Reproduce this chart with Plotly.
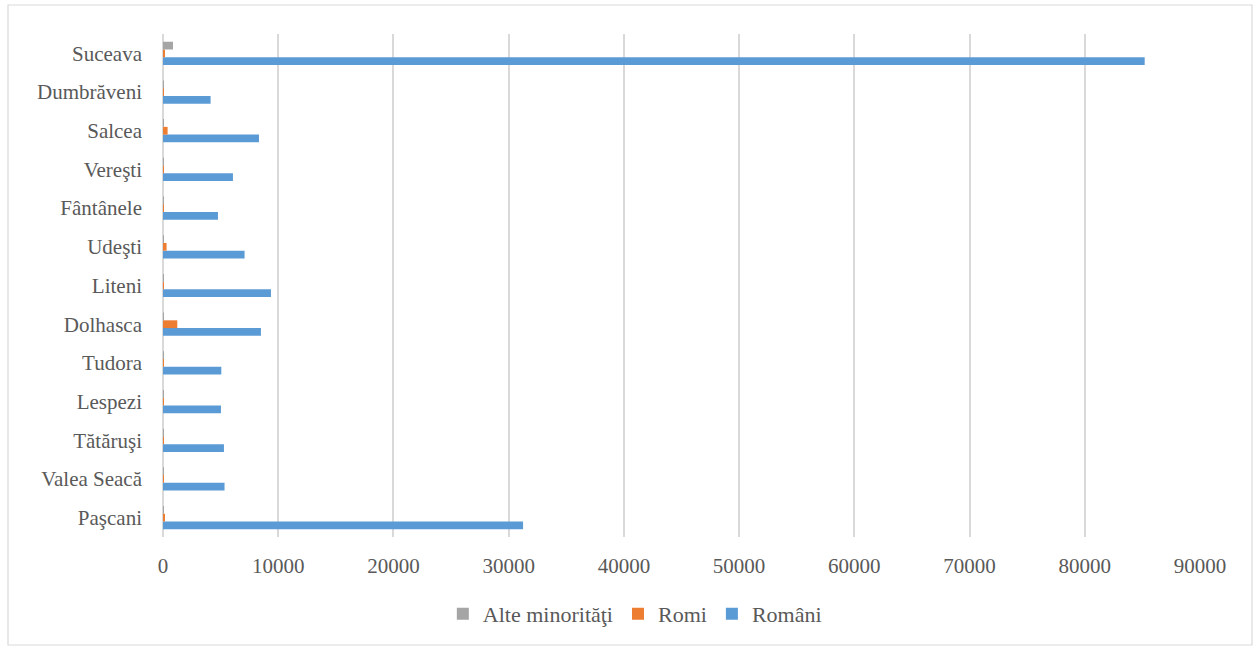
import plotly.graph_objects as go

# Localities, listed bottom-to-top as they appear on the category axis
localitati = ["Paşcani", "Valea Seacă", "Tătăruşi", "Lespezi", "Tudora", "Dolhasca",
              "Liteni", "Udeşti", "Fântânele", "Vereşti", "Salcea", "Dumbrăveni", "Suceava"]

# Population by ethnicity
romani = [31250, 5340, 5290, 5030, 5060, 8500, 9370, 7080, 4770, 6070, 8330, 4130, 85200]
romi = [170, 20, 20, 20, 20, 1240, 20, 310, 20, 20, 400, 20, 150]
alte_minoritati = [20, 10, 10, 60, 10, 20, 10, 20, 10, 10, 30, 20, 870]

x_ticks = [0, 10000, 20000, 30000, 40000, 50000, 60000, 70000, 80000, 90000]

FONT = "Liberation Serif"
TEXT = "#595959"

fig = go.Figure()
fig.add_trace(go.Bar(y=localitati, x=romani, name="Români", orientation="h",
                     marker=dict(color="#5B9BD5", line=dict(width=0))))
fig.add_trace(go.Bar(y=localitati, x=romi, name="Romi", orientation="h",
                     marker=dict(color="#ED7D31", line=dict(width=0))))
fig.add_trace(go.Bar(y=localitati, x=alte_minoritati, name="Alte minorităţi", orientation="h",
                     marker=dict(color="#A5A5A5", line=dict(width=0))))

fig.update_layout(
    width=1256, height=648,
    barmode="group", bargap=0.4, bargroupgap=0,
    paper_bgcolor="white", plot_bgcolor="white",
    margin=dict(l=163, r=56, t=34, b=111),
    font=dict(family=FONT, color=TEXT, size=21),
    legend=dict(orientation="h", traceorder="reversed", x=0.455, xanchor="center",
                y=-0.153, yanchor="middle", font=dict(size=22, color=TEXT),
                itemwidth=30, tracegroupgap=0),
    xaxis=dict(range=[0, 90000], tickvals=x_ticks, ticktext=[str(v) for v in x_ticks],
               showgrid=True, gridcolor="#D9D9D9", gridwidth=1.5,
               zeroline=True, zerolinecolor="#D9D9D9", zerolinewidth=1.5,
               showline=False, ticks="", ticklabelstandoff=14,
               tickfont=dict(size=21, color=TEXT), fixedrange=True),
    yaxis=dict(categoryorder="array", categoryarray=localitati,
               showgrid=False, zeroline=False, showline=False, ticks="",
               ticklabelstandoff=20, tickfont=dict(size=21, color=TEXT), fixedrange=True),
    shapes=[dict(type="rect", xref="paper", yref="paper",
                 x0=-155 / 1037, x1=1 + 52 / 1037, y0=-108 / 503, y1=1 + 29 / 503,
                 line=dict(color="#D9D9D9", width=1.2), fillcolor="rgba(0,0,0,0)",
                 layer="below")],
)

fig.write_html("out.html")
